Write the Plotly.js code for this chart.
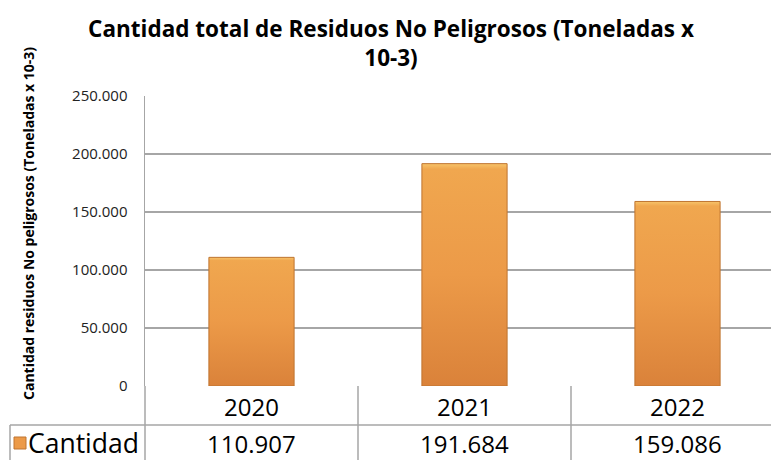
<!DOCTYPE html>
<html>
<head>
<meta charset="utf-8">
<script src="https://cdn.plot.ly/plotly-3.0.1.min.js"></script>
<style>
  html, body { margin: 0; padding: 0; background: #fff; }
  #chart { width: 771px; height: 460px; }
</style>
</head>
<body>
<div id="chart"></div>
<script>
// ---- Data ----
var years = ['2020', '2021', '2022'];
var cantidad = [110907, 191684, 159086];
var seriesName = 'Cantidad';
var yTickVals = [0, 50000, 100000, 150000, 200000, 250000];
var yTickText = ['0', '50.000', '100.000', '150.000', '200.000', '250.000'];
var titleText = 'Cantidad total de Residuos No Peligrosos (Toneladas x<br>10-3)';
var yTitleText = 'Cantidad residuos No peligrosos (Toneladas x 10-3)';

function fmt(v) {
  return String(v).replace(/\B(?=(\d{3})+(?!\d))/g, '.');
}

var FONT = 'Open Sans, Noto Sans, sans-serif';
var GRID = '#a6a6a6';

var trace = {
  type: 'bar',
  x: years,
  y: cantidad,
  name: seriesName,
  width: 0.4,
  marker: { color: '#ec9a48', line: { color: '#bf7430', width: 1 } },
  hoverinfo: 'skip'
};

// plot area spans px 145..771 horizontally and 96..386 vertically
var W = 771, H = 460, L = 145, T = 96, B = 386;
var pw = W - L, ph = B - T;
function px2x(p) { return (p - L) / pw; }
function py2y(p) { return (B - p) / ph; }

var catW = 213;
var shapes = [];
shapes.push({ type: 'line', xref: 'paper', yref: 'paper', x0: px2x(10), x1: 1.01, y0: py2y(425), y1: py2y(425), line: { color: GRID, width: 1.5 } });
[145, 358, 571].forEach(function (p) {
  shapes.push({ type: 'line', xref: 'paper', yref: 'paper', x0: px2x(p), x1: px2x(p), y0: py2y(386), y1: py2y(462), line: { color: GRID, width: 1.5 } });
});
shapes.push({ type: 'line', xref: 'paper', yref: 'paper', x0: px2x(10), x1: px2x(10), y0: py2y(425), y1: py2y(462), line: { color: GRID, width: 1.5 } });
shapes.push({ type: 'rect', xref: 'paper', yref: 'paper', x0: px2x(14), x1: px2x(26), y0: py2y(437), y1: py2y(449), fillcolor: '#ec9a48', line: { color: '#bf7430', width: 1 } });

var annotations = [];
years.forEach(function (yr, i) {
  annotations.push({ xref: 'x', yref: 'paper', x: i, y: py2y(406), text: yr, showarrow: false, yanchor: 'middle', xanchor: 'center', font: { family: FONT, size: 24, color: '#000' } });
  annotations.push({ xref: 'x', yref: 'paper', x: i, y: py2y(443), text: fmt(cantidad[i]), showarrow: false, yanchor: 'middle', xanchor: 'center', font: { family: FONT, size: 24, color: '#000' } });
});
annotations.push({ xref: 'paper', yref: 'paper', x: px2x(26), y: py2y(443), text: seriesName, showarrow: false, xanchor: 'left', yanchor: 'middle', font: { family: FONT, size: 26.5, color: '#000' } });
annotations.push({ xref: 'paper', yref: 'paper', x: px2x(28), y: py2y(224), text: yTitleText, textangle: -90, showarrow: false, xanchor: 'center', yanchor: 'middle', font: { family: FONT, size: 14, color: '#000', weight: 'bold' } });

var layout = {
  width: W, height: H,
  margin: { l: L, r: 0, t: T, b: H - B, pad: 0 },
  paper_bgcolor: '#fff', plot_bgcolor: '#fff',
  showlegend: false,
  separators: ',.',
  title: {
    text: titleText,
    font: { family: FONT, size: 22.5, color: '#000', weight: 'bold' },
    x: 391 / W, xanchor: 'center', xref: 'container',
    y: 1 - 37 / H, yanchor: 'middle', yref: 'container'
  },
  xaxis: {
    type: 'category',
    range: [-0.5, 2.5 - 13 / catW],
    showticklabels: false, showgrid: false, zeroline: false, showline: false, ticks: ''
  },
  yaxis: {
    range: [0, 250000],
    tickvals: yTickVals, ticktext: yTickText,
    tickfont: { family: FONT, size: 15, color: '#222' },
    showgrid: true, gridcolor: GRID, gridwidth: 1.5,
    showline: true, linecolor: GRID, linewidth: 1.5,
    zeroline: false, ticks: '', ticklabelstandoff: 13
  },
  shapes: shapes,
  annotations: annotations,
  bargap: 0.6
};

Plotly.newPlot('chart', [trace], layout, { displayModeBar: false, staticPlot: true }).then(function (gd) {
  var svg = gd.querySelector('svg.main-svg');
  var ns = 'http://www.w3.org/2000/svg';
  var defs = svg.querySelector('defs') || svg.insertBefore(document.createElementNS(ns, 'defs'), svg.firstChild);
  var g = document.createElementNS(ns, 'linearGradient');
  g.setAttribute('id', 'barGrad');
  g.setAttribute('x1', '0'); g.setAttribute('y1', '0'); g.setAttribute('x2', '0'); g.setAttribute('y2', '1');
  [['0', '#f7c46a'], ['0.025', '#f0a74f'], ['0.5', '#ec9a48'], ['1', '#da823a']].forEach(function (s) {
    var st = document.createElementNS(ns, 'stop');
    st.setAttribute('offset', s[0]); st.setAttribute('stop-color', s[1]);
    g.appendChild(st);
  });
  defs.appendChild(g);
  gd.querySelectorAll('.bars .point path').forEach(function (p) {
    p.style.fill = 'url(#barGrad)';
  });
});
</script>
</body>
</html>
